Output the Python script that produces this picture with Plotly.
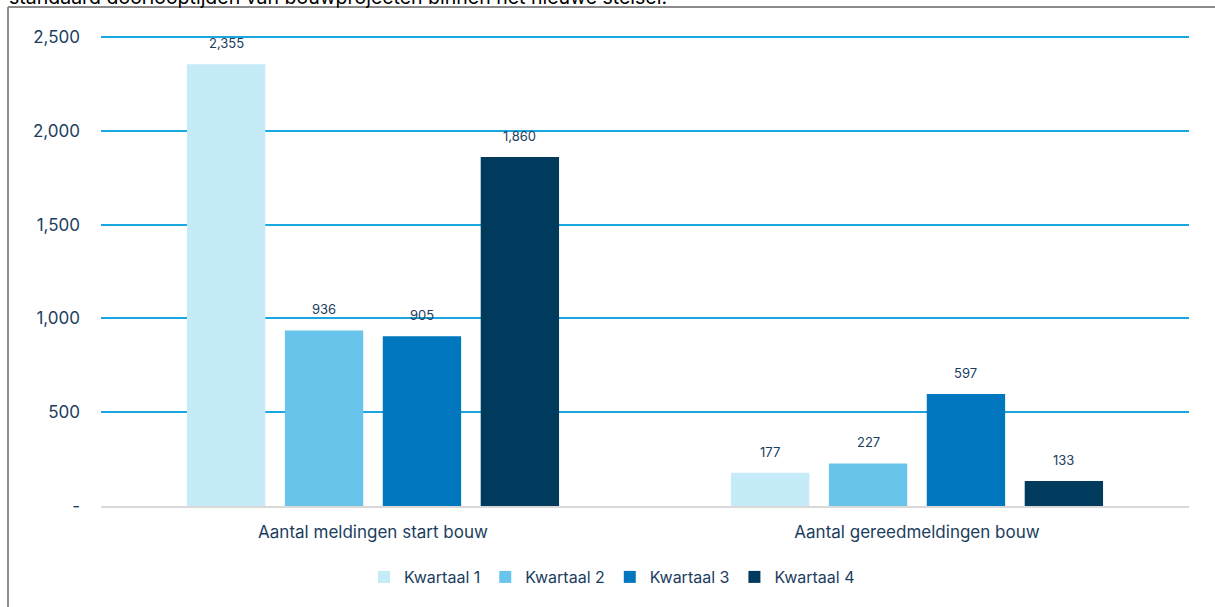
import plotly.graph_objects as go

categories = ["Aantal meldingen start bouw", "Aantal gereedmeldingen bouw"]
series_names = ["Kwartaal 1", "Kwartaal 2", "Kwartaal 3", "Kwartaal 4"]
q1 = [2355, 177]
q2 = [936, 227]
q3 = [905, 597]
q4 = [1860, 133]
colors = ["#C5EBF9", "#69C4EC", "#0077BE", "#003A5D"]
tick_vals = [0, 500, 1000, 1500, 2000, 2500]
tick_text = ["-", "500", "1,000", "1,500", "2,000", "2,500"]
title_text = "standaard doorlooptijden van bouwprojecten binnen het nieuwe stelsel."
y_max = 2500

W, H = 1215, 607
ml, mr, mt, mb = 101, 26, 37, 101
pw, ph = W - ml - mr, H - mt - mb
BARGAP, GROUPGAP = 0.28, 0.2
grid_col = "#1AA7E0"

def px_x(p):  # viewport px -> paper
    return (p - ml) / pw

def px_y(p):
    return (H - mb - p) / ph

text_col = "#1B3D5E"
font_fam = "Inter, Noto Sans, sans-serif"

fig = go.Figure()
all_series = [q1, q2, q3, q4]
for name, vals, col in zip(series_names, all_series, colors):
    fig.add_trace(go.Bar(
        x=categories, y=vals, name=name, marker_color=col,
        marker_line_width=0, hoverinfo="skip",
    ))

# value labels placed above each grouped bar
annotations = []
n = len(all_series)
slot = (1 - BARGAP) / n
for si, vals in enumerate(all_series):
    off = -(1 - BARGAP) / 2 + slot * (si + 0.5)
    for ci, v in enumerate(vals):
        annotations.append(dict(
            x=ci + off, y=v, xref="x", yref="y", text=f"{v:,}",
            showarrow=False, yshift=21, yanchor="middle",
            font=dict(size=13, color=text_col, family=font_fam),
        ))

annotations.append(dict(text=title_text, xref="paper", yref="paper", x=px_x(7), y=px_y(-3),
                        xanchor="left", yanchor="middle", showarrow=False,
                        font=dict(size=19.5, color="#000000", family=font_fam)))

top_grid = tick_vals[-1] / y_max  # paper y of the top gridline

fig.update_layout(
    width=W, height=H,
    margin=dict(l=ml, r=mr, t=mt, b=mb, autoexpand=False),
    paper_bgcolor="white", plot_bgcolor="white",
    barmode="group", bargap=BARGAP, bargroupgap=GROUPGAP,
    font=dict(family=font_fam, color=text_col, size=15),
    showlegend=True,
    legend=dict(orientation="h", x=px_x(612), xanchor="center", y=px_y(577), yanchor="middle",
                font=dict(size=16, color=text_col), traceorder="normal",
                itemwidth=30, tracegroupgap=0),
    xaxis=dict(showgrid=False, showline=True, linecolor="#D9D9D9", linewidth=2,
               ticks="", tickfont=dict(size=17, color=text_col), ticklabelstandoff=10,
               automargin=False),
    yaxis=dict(range=[0, y_max], tickvals=tick_vals, ticktext=tick_text,
               showgrid=True, gridcolor=grid_col, gridwidth=2, zeroline=False,
               showline=False, ticks="", tickfont=dict(size=17, color=text_col),
               ticklabelstandoff=20, automargin=False),
    shapes=[
        dict(type="line", xref="paper", yref="paper", x0=0, x1=1, y0=top_grid, y1=top_grid,
             line=dict(color=grid_col, width=2)),
        dict(type="line", xref="paper", yref="paper", x0=px_x(8), x1=px_x(8),
             y0=px_y(7), y1=px_y(640), line=dict(color="#8C8C8C", width=2)),
        dict(type="line", xref="paper", yref="paper", x0=px_x(8), x1=px_x(1240),
             y0=px_y(7), y1=px_y(7), line=dict(color="#8C8C8C", width=2)),
    ],
    annotations=annotations,
)
fig.write_html("out.html", config={"displayModeBar": False},
               post_script="document.body.style.margin='0';document.body.style.overflow='hidden';")
